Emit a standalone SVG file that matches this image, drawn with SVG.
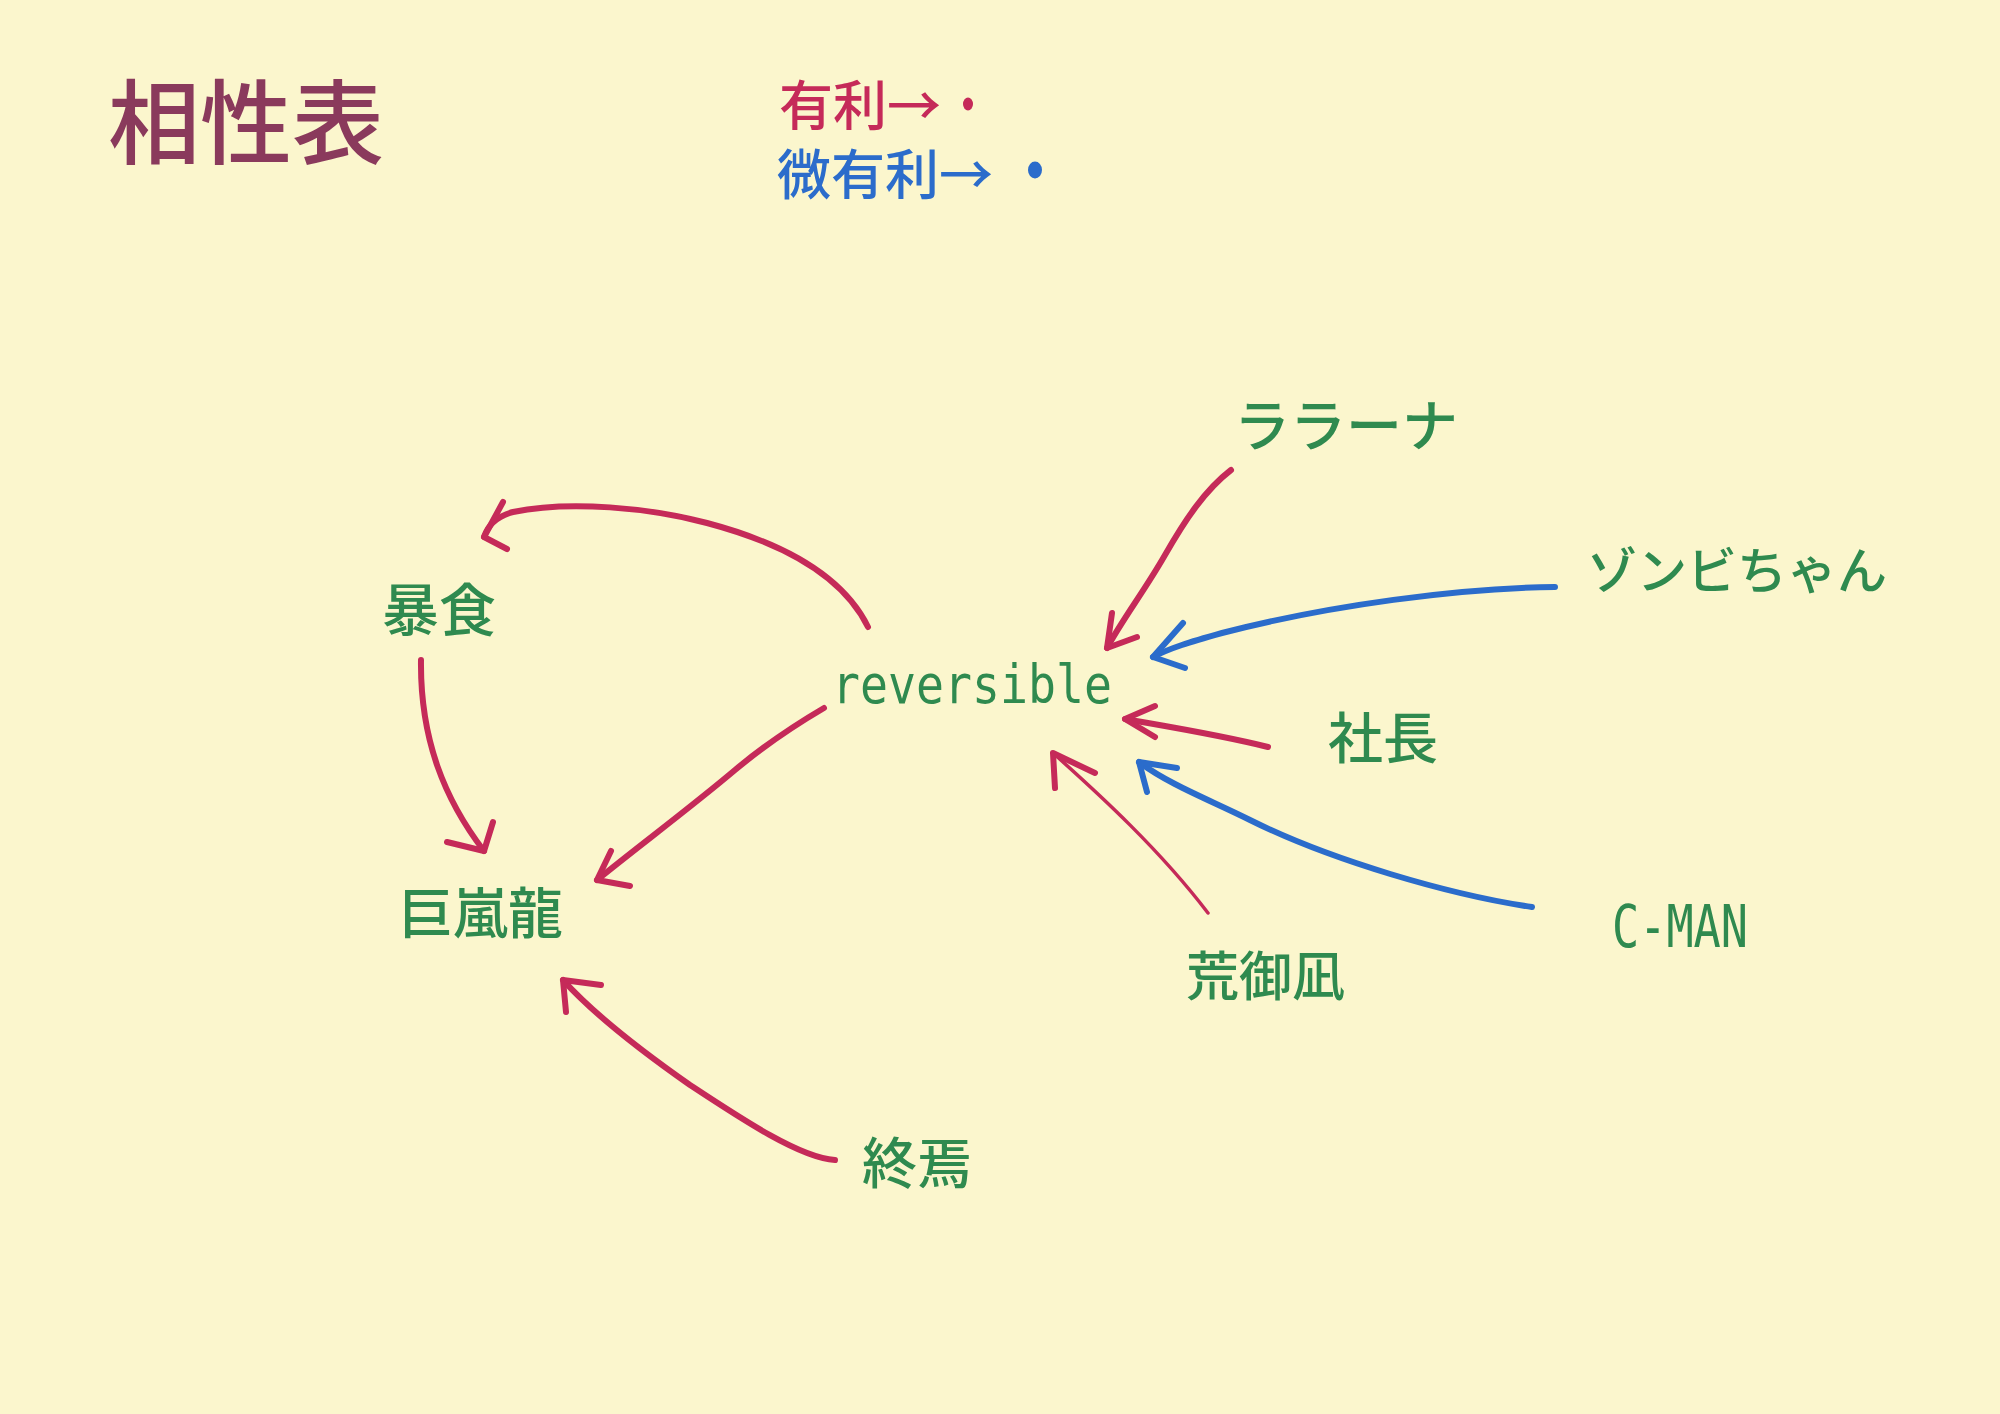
<svg xmlns="http://www.w3.org/2000/svg" width="2000" height="1414" viewBox="0 0 2000 1414">
<style>
.bg{fill:#FBF6CD}
.cjk{font-family:"Noto Sans CJK JP","Noto Sans CJK SC",sans-serif;font-weight:500}
.node{fill:#2F8A4F}
.mono{font-family:"DejaVu Sans Mono","Liberation Mono",monospace;fill:#2F8A4F}
.r{fill:none;stroke:#C52A59;stroke-width:6;stroke-linecap:round;stroke-linejoin:round}
.b{fill:none;stroke:#2B6CCB;stroke-width:6;stroke-linecap:round;stroke-linejoin:round}
.thin{stroke-width:3.5}
</style>
<rect class="bg" x="0" y="0" width="2000" height="1414"/>
<g id="title"><text class="cjk" x="108" y="157" font-size="92" font-weight="700" fill="#8A3A5C">相性表</text></g>
<g id="legend">
<text class="cjk" x="779" y="126" font-size="54" fill="#C52A59">有利→</text>
<ellipse cx="968" cy="104" rx="5" ry="6.5" fill="#C52A59"/>
<text class="cjk" x="777" y="195" font-size="54" fill="#2B6CCB">微有利→</text>
<ellipse cx="1035" cy="170" rx="7" ry="8.5" fill="#2B6CCB"/>
</g>
<g id="node-boshoku"><text class="cjk node" x="382" y="631" font-size="57">暴食</text></g>
<g id="node-kyoranryu"><text class="cjk node" x="398" y="933" font-size="55">巨嵐龍</text></g>
<g id="node-shuen"><text class="cjk node" x="862" y="1183" font-size="55">終焉</text></g>
<g id="node-reversible"><text class="mono" x="832" y="703" font-size="54" textLength="280" lengthAdjust="spacingAndGlyphs">reversible</text></g>
<g id="node-rarana"><text class="cjk node" x="1234" y="446" font-size="56">ララーナ</text></g>
<g id="node-zombie"><text class="cjk node" x="1587" y="589" font-size="50">ゾンビちゃん</text></g>
<g id="node-shacho"><text class="cjk node" x="1328" y="758" font-size="55">社長</text></g>
<g id="node-aranagi"><text class="cjk node" x="1186" y="996" font-size="53">荒御凪</text></g>
<g id="node-cman"><text class="mono" x="1612" y="947" font-size="58" textLength="136" lengthAdjust="spacingAndGlyphs">C-MAN</text></g>
<g id="connectors">
<path class="r" d="M868,627 C845,580 790,545 707,523 C650,508 570,500 513,512 C498,516 488,525 484,537"/>
<path class="r" d="M503,502 L484,537 L507,549"/>
<path class="r" d="M824,708 C795,725 765,745 735,770 C690,808 640,845 597,880"/>
<path class="r" d="M611,851 L597,880 L630,886"/>
<path class="r" d="M421,660 C420,740 445,800 484,851"/>
<path class="r" d="M493,822 L484,851 L447,842"/>
<path class="r" d="M835,1160 C800,1158 740,1118 690,1085 C640,1050 590,1010 563,980"/>
<path class="r" d="M566,1012 L563,980 L601,985"/>
<path class="r" d="M1231,470 C1205,490 1185,520 1165,555 C1145,590 1122,620 1107,648"/>
<path class="r" d="M1112,613 L1107,648 L1137,637"/>
<path class="b" d="M1555,587 C1460,588 1330,605 1222,633 C1190,642 1170,648 1153,657"/>
<path class="b" d="M1183,623 L1153,657 L1185,668"/>
<path class="r" d="M1268,747 C1220,735 1170,727 1125,719"/>
<path class="r" d="M1155,706 L1125,719 L1155,737"/>
<path class="b" d="M1532,907 C1450,895 1330,860 1250,820 C1210,800 1170,785 1139,762"/>
<path class="b" d="M1147,792 L1139,762 L1177,768"/>
<path class="r thin" d="M1208,913 C1160,850 1100,795 1053,753"/>
<path class="r" d="M1055,788 L1053,753 L1095,773"/>
</g>
</svg>
